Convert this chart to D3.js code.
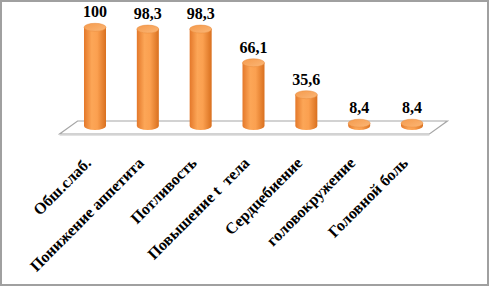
<!DOCTYPE html>
<html>
<head>
<meta charset="utf-8">
<script src="https://cdn.jsdelivr.net/npm/d3@7"></script>
<style>
    body { margin: 0; background: #fff; }
    #chart { width: 490px; height: 287px; }
    text { font-family: "Liberation Serif", "Times New Roman", "DejaVu Serif", serif; font-weight: bold; fill: #000; }
</style>
</head>
<body>
<div id="chart"></div>
<script>
    "use strict";

    // chart data
    const categories = ["Обш.слаб.", "Понижение аппетита", "Потливость", "Повышение t  тела",
        "Сердцебиение", "головокружение", "Головной боль"];
    const values = [100, 98.3, 98.3, 66.1, 35.6, 8.4, 8.4];
    const valueLabels = ["100", "98,3", "98,3", "66,1", "35,6", "8,4", "8,4"];

    const width = 490;
    const height = 287;

    // bar and floor settings
    let rx = 11;
    let ry = 4;
    let depthX = 9;
    let depthY = 6.5;
    let floorY = 127.5;

    let svg = d3.select("#chart").append("svg")
        .attr("width", width)
        .attr("height", height);

    // gradients for cylinders
    let defs = svg.append("defs");
    let bodyGrad = defs.append("linearGradient")
        .attr("id", "body")
        .attr("x1", "0").attr("x2", "1").attr("y1", "0").attr("y2", "0");
    bodyGrad.append("stop").attr("offset", "0%").attr("stop-color", "#e4782a");
    bodyGrad.append("stop").attr("offset", "35%").attr("stop-color", "#fca657");
    bodyGrad.append("stop").attr("offset", "60%").attr("stop-color", "#fba050");
    bodyGrad.append("stop").attr("offset", "100%").attr("stop-color", "#d9701f");

    let topGrad = defs.append("linearGradient")
        .attr("id", "top")
        .attr("x1", "0").attr("x2", "1").attr("y1", "0").attr("y2", "1");
    topGrad.append("stop").attr("offset", "0%").attr("stop-color", "#f59a4c");
    topGrad.append("stop").attr("offset", "100%").attr("stop-color", "#fbb777");

    // outer frame
    svg.append("rect")
        .attr("x", 1)
        .attr("y", 1)
        .attr("width", 487)
        .attr("height", 284)
        .attr("fill", "#fff")
        .attr("stroke", "#a0a0a0")
        .attr("stroke-width", 2);

    // scales
    let x = d3.scalePoint()
        .domain(categories)
        .range([95, 412]);
    let step = x.step();

    let y = d3.scaleLinear()
        .domain([0, 100])
        .range([132, 27.3]);

    // floor
    let fl = x(categories[0]) - step / 2;
    let fr = x(categories[categories.length - 1]) + step / 2;
    let floorPts = [
        [fl + depthX, floorY - depthY],
        [fr + depthX, floorY - depthY],
        [fr - depthX, floorY + depthY],
        [fl - depthX, floorY + depthY]
    ];
    svg.append("path")
        .attr("d", "M" + floorPts.join("L") + "Z")
        .attr("fill", "#fff")
        .attr("stroke", "#a6a6a6")
        .attr("stroke-width", 1.2);
    svg.append("line")
        .attr("x1", fl - depthX)
        .attr("x2", fr - depthX)
        .attr("y1", floorY + depthY + 1.2)
        .attr("y2", floorY + depthY + 1.2)
        .attr("stroke", "#d6d6d6")
        .attr("stroke-width", 1);

    let bottomY = floorY - 1.5;

    let bars = svg.selectAll(".bar")
        .data(values)
        .enter()
        .append("g")
        .attr("class", "bar");

    // cylinder body
    bars.append("path")
        .attr("d", (d, i) => {
            let cx = x(categories[i]);
            let ty = y(d);
            return "M" + (cx - rx) + "," + ty +
                "L" + (cx - rx) + "," + bottomY +
                "A" + rx + "," + ry + " 0 0 0 " + (cx + rx) + "," + bottomY +
                "L" + (cx + rx) + "," + ty + "Z";
        })
        .attr("fill", "url(#body)");

    // cylinder top
    bars.append("ellipse")
        .attr("cx", (d, i) => x(categories[i]))
        .attr("cy", d => y(d))
        .attr("rx", rx)
        .attr("ry", ry)
        .attr("fill", "url(#top)")
        .attr("stroke", "#e88a3a")
        .attr("stroke-width", 0.5);

    // value labels
    svg.selectAll(".value")
        .data(values)
        .enter()
        .append("text")
        .attr("class", "value")
        .attr("x", (d, i) => x(categories[i]))
        .attr("y", d => y(d) - ry - 6)
        .attr("text-anchor", "middle")
        .style("font-size", "16px")
        .text((d, i) => valueLabels[i]);

    // category labels
    svg.selectAll(".cat")
        .data(categories)
        .enter()
        .append("text")
        .attr("class", "cat")
        .attr("transform", d => "translate(" + (x(d) - 3) + "," + 164 + ") rotate(-45)")
        .attr("text-anchor", "end")
        .style("font-size", "16px")
        .style("white-space", "pre")
        .text(d => d);
</script>
</body>
</html>
